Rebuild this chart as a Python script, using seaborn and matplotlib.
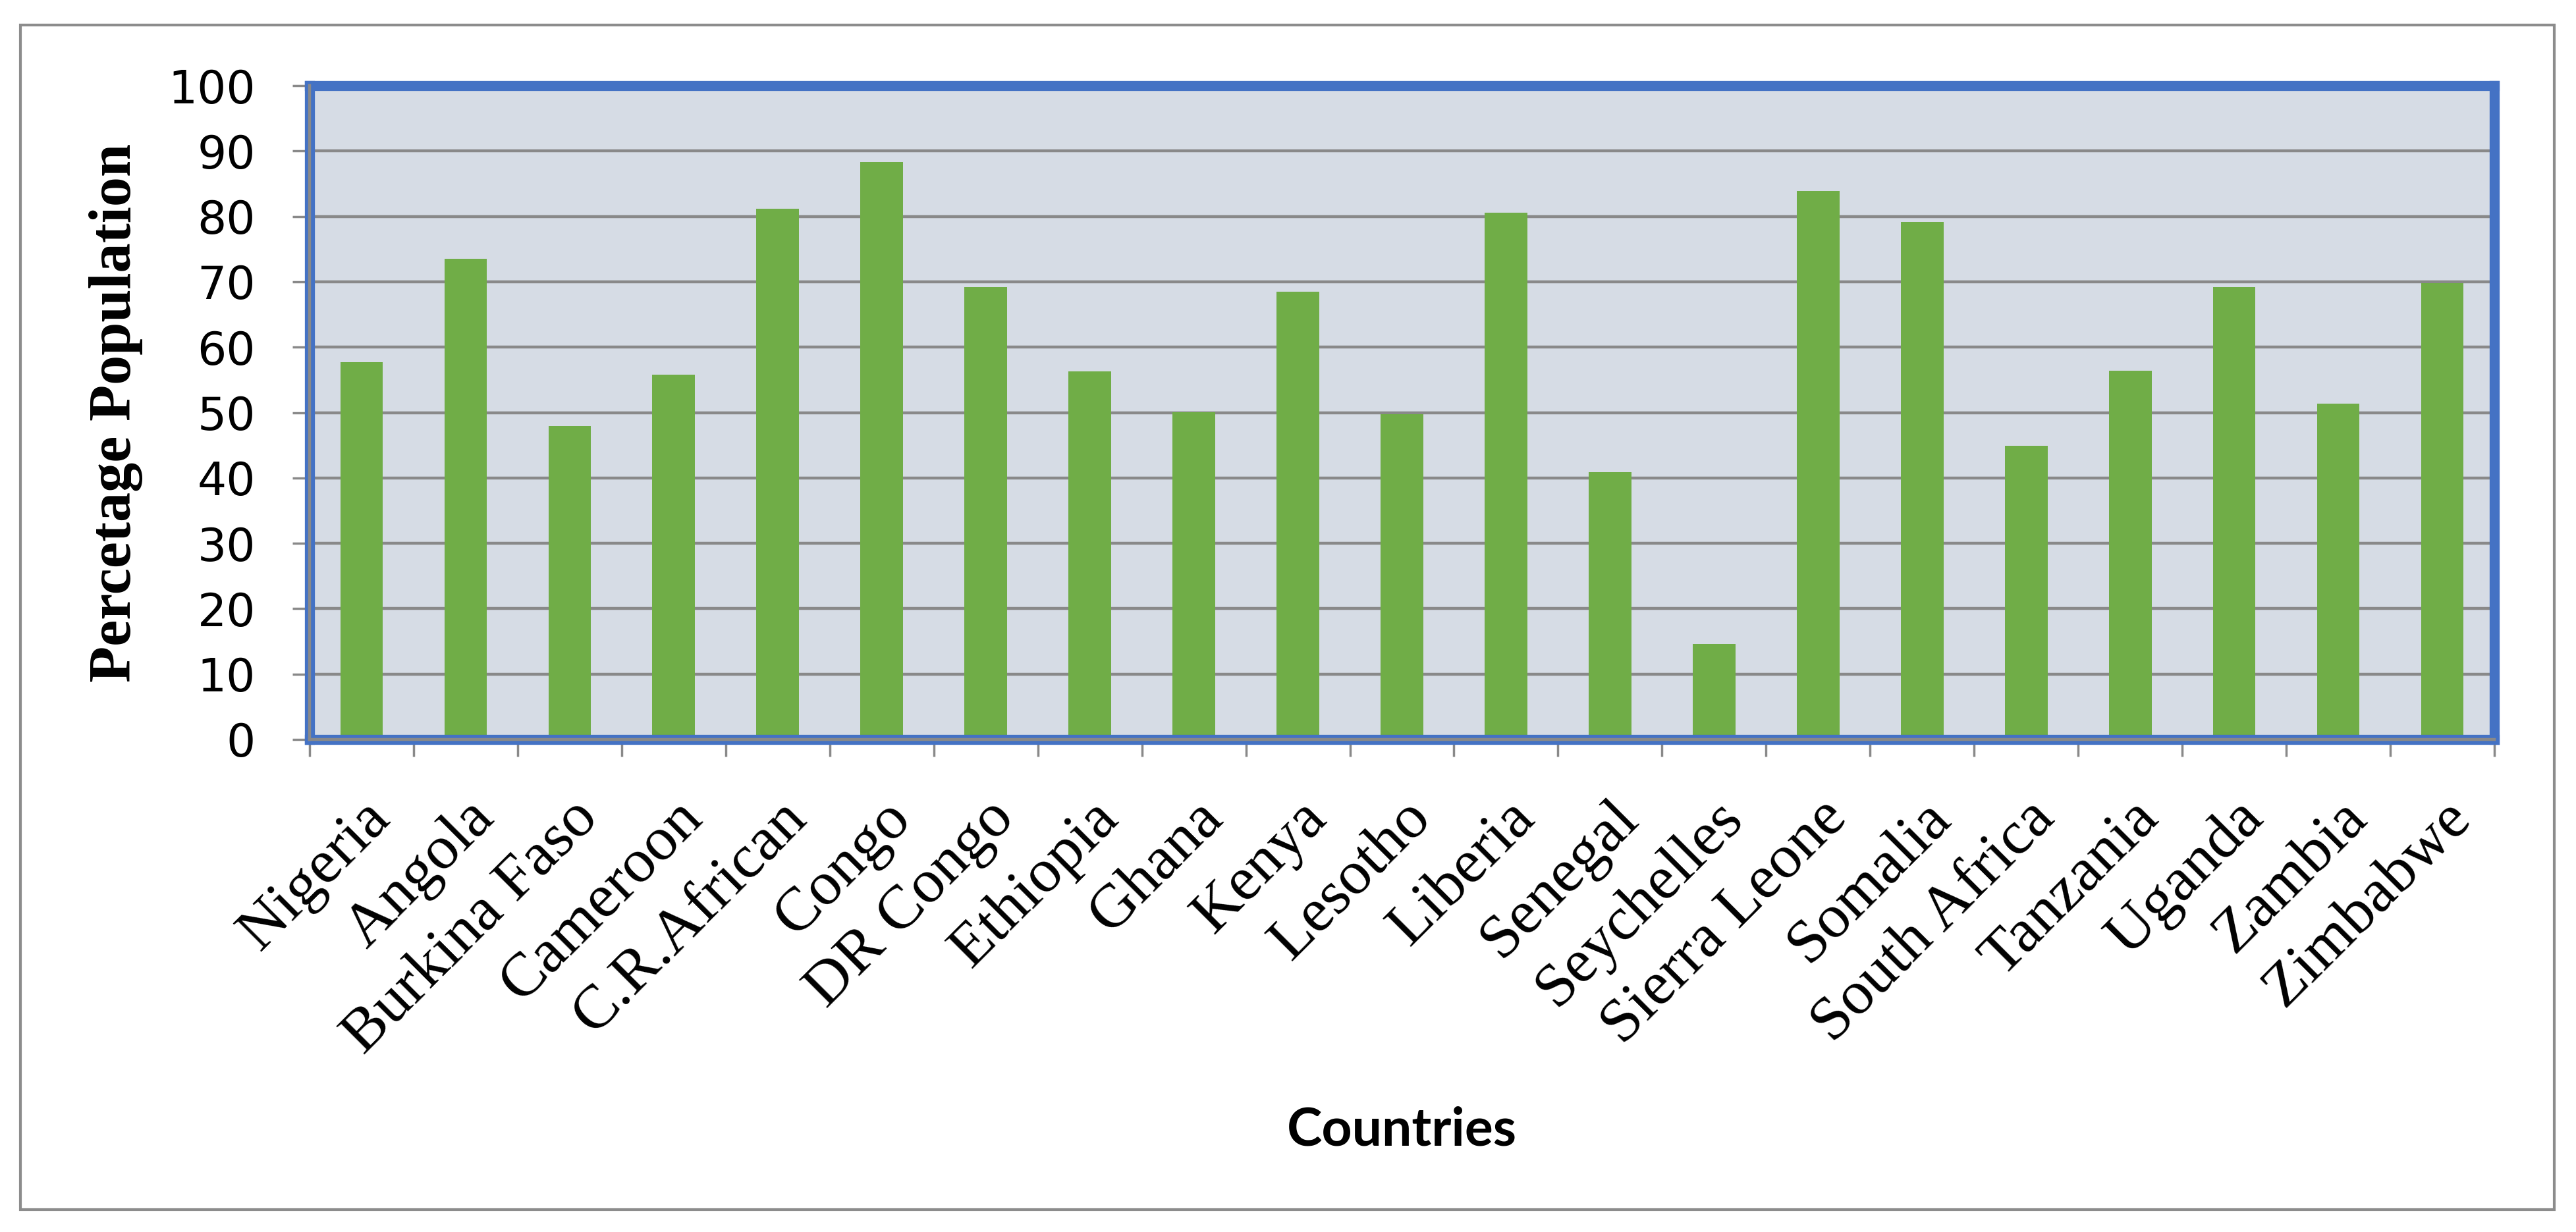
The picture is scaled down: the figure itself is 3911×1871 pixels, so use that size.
import matplotlib
matplotlib.use("Agg")
import matplotlib.pyplot as plt
import seaborn as sns
import pandas as pd
from matplotlib.patches import Rectangle

# Données
countries = ['Nigeria', 'Angola', 'Burkina Faso', 'Cameroon', 'C.R.African', 'Congo',
             'DR Congo', 'Ethiopia', 'Ghana', 'Kenya', 'Lesotho', 'Liberia', 'Senegal',
             'Seychelles', 'Sierra Leone', 'Somalia', 'South Africa', 'Tanzania',
             'Uganda', 'Zambia', 'Zimbabwe']
percentages = [57.7, 73.5, 47.9, 55.8, 81.2, 88.3, 69.2, 56.3, 50.1, 68.5, 49.7,
               80.6, 40.9, 14.6, 83.9, 79.2, 44.9, 56.4, 69.2, 51.4, 69.8]
y_ticks = [0, 10, 20, 30, 40, 50, 60, 70, 80, 90, 100]

df = pd.DataFrame({'Country': countries, 'Percent': percentages})

W, H = 3911, 1871
fig = plt.figure(figsize=(W / 100, H / 100), dpi=100)
ax = fig.add_axes([470 / W, 1 - 1123 / H, (3787 - 470) / W, (1123 - 130) / H])

# Cadre extérieur gris
fig.patches.append(Rectangle((31 / W, 1 - 1837 / H), (3878 - 31) / W, (1837 - 38) / H,
                             transform=fig.transFigure, fill=False,
                             edgecolor='#8c8c8c', linewidth=3))

sns.barplot(data=df, x='Country', y='Percent', color='#70AD47', saturation=1,
            width=0.41, ax=ax, zorder=3)

ax.set_facecolor('#D6DCE5')
ax.set_xlim(-0.5, len(countries) - 0.5)
ax.set_ylim(0, 100)
ax.set_yticks(y_ticks)
ax.yaxis.grid(True, color='#898989', linewidth=3.2, zorder=1)
ax.set_axisbelow(True)

for side in ['top', 'right', 'left', 'bottom']:
    ax.spines[side].set_color('#4472C4')
    ax.spines[side].set_linewidth(11)
    ax.spines[side].set_zorder(4)

# Axes gris à la manière d'Excel
ax.axhline(0, color='#898989', linewidth=3.2, zorder=5, clip_on=False)
ax.axvline(-0.5, color='#898989', linewidth=3.2, zorder=5, clip_on=False)

ax.tick_params(axis='y', length=19, width=2.5, color='#898989', pad=40,
               labelsize=50)
ax.set_xticks(range(len(countries)))
ax.set_xticks([i - 0.5 for i in range(len(countries) + 1)], minor=True)
ax.tick_params(axis='x', which='major', length=0, pad=55)
ax.tick_params(axis='x', which='minor', length=19, width=2.5, color='#898989')
ax.set_xticklabels(countries, rotation=45, ha='right', rotation_mode='anchor',
                   family='Liberation Serif', fontsize=68)

ax.set_ylabel('Percetage Population', family='Liberation Serif', fontweight='bold',
              fontsize=65, labelpad=28)
ax.set_xlabel('Countries', family='Lato', fontweight='bold', fontsize=58)
ax.xaxis.set_label_coords(0.5, -0.56)

fig.savefig('out.png', dpi=100)
